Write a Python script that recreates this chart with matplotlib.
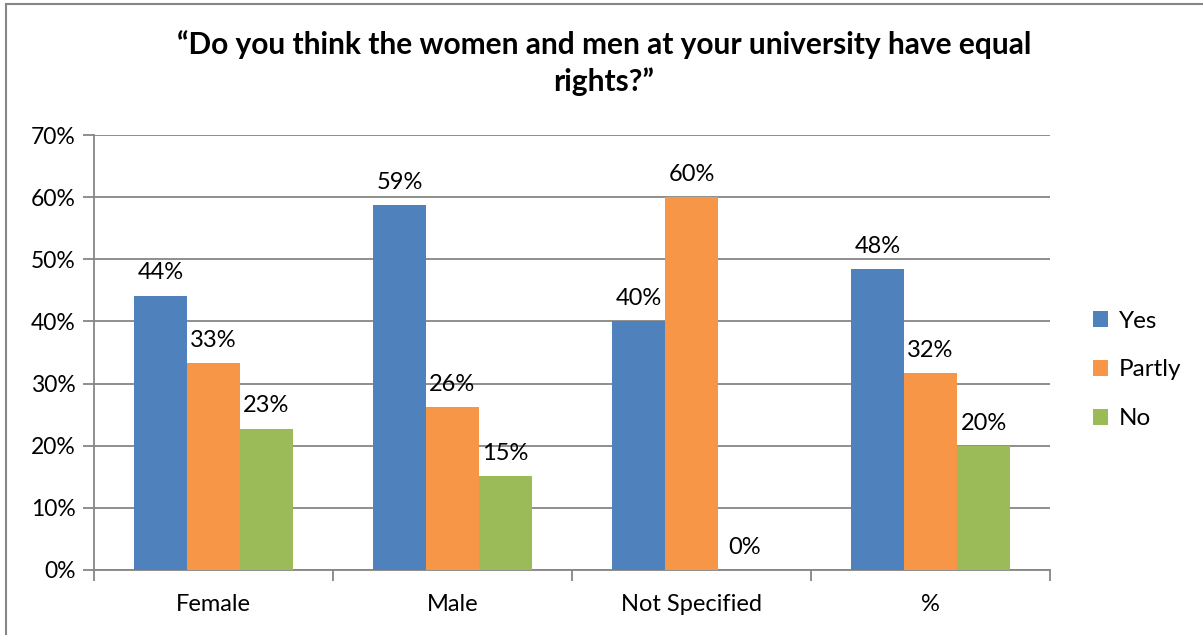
import numpy as np
import matplotlib.pyplot as plt
from matplotlib.lines import Line2D

plt.rcParams['font.family'] = ['Lato', 'DejaVu Sans']

# survey answers by gender group
categories = ["Female", "Male", "Not Specified", "%"]
yes = [44.1, 58.7, 40.0, 48.4]
partly = [33.3, 26.2, 60.0, 31.7]
no = [22.7, 15.1, 0.0, 19.9]
series_names = ["Yes", "Partly", "No"]
colors = ["#4F81BD", "#F79646", "#9BBB59"]

grid_color = "#868686"

fig = plt.figure(figsize=(12.03, 6.35), dpi=100)
ax = fig.add_axes([94 / 1203, 65 / 635, 956 / 1203, 435 / 635])

x = np.arange(len(categories)) + 0.5
width = 0.222
for i, (vals, name, c) in enumerate(zip([yes, partly, no], series_names, colors)):
    pos = x + (i - 1) * width
    bars = ax.bar(pos, vals, width=width, color=c, label=name, zorder=3)
    for b, v in zip(bars, vals):
        ax.annotate(f"{v:.0f}%", (b.get_x() + b.get_width() / 2, v),
                    xytext=(0, 9), textcoords="offset points",
                    ha="center", va="bottom", fontsize=17)

ax.set_xlim(0, len(categories))
ax.set_ylim(0, 70)
ax.set_yticks(range(0, 71, 10))
ax.set_yticklabels([f"{t}%" for t in range(0, 71, 10)], fontsize=16.5)
ax.yaxis.grid(True, color=grid_color, linewidth=1.3, zorder=0)
ax.set_axisbelow(True)

# category labels sit between the boundary ticks
ax.set_xticks(range(len(categories) + 1))
ax.set_xticklabels([])
ax.set_xticks(x, minor=True)
ax.set_xticklabels(categories, minor=True, fontsize=17)
ax.tick_params(axis="x", which="minor", length=0, pad=17)
ax.tick_params(axis="x", which="major", length=8, width=1.3, color=grid_color)
ax.tick_params(axis="y", length=8, width=1.3, color=grid_color, pad=5)

for side in ["top", "right"]:
    ax.spines[side].set_visible(False)
for side in ["left", "bottom"]:
    ax.spines[side].set_color(grid_color)
    ax.spines[side].set_linewidth(1.3)

fig.text(0.502, 1 - 63 / 635,
         "\u201cDo you think the women and men at your university have equal\nrights?\u201d",
         ha="center", va="center", fontsize=21.5, fontweight="bold", linespacing=1.35)

fig.legend(loc="center left", bbox_to_anchor=(1093 / 1203, 1 - 370 / 635),
           frameon=False, fontsize=17.5, handlelength=0.6, handleheight=0.6,
           handletextpad=0.45, labelspacing=1.15, borderpad=0, borderaxespad=0)

# chart frame (left and top edges)
fig.add_artist(Line2D([6 / 1203, 6 / 1203], [0, 1 - 4 / 635], transform=fig.transFigure,
                      color=grid_color, linewidth=1.5))
fig.add_artist(Line2D([6 / 1203, 1], [1 - 4 / 635, 1 - 4 / 635], transform=fig.transFigure,
                      color=grid_color, linewidth=1.5))

fig.savefig("out.png", dpi=100)
